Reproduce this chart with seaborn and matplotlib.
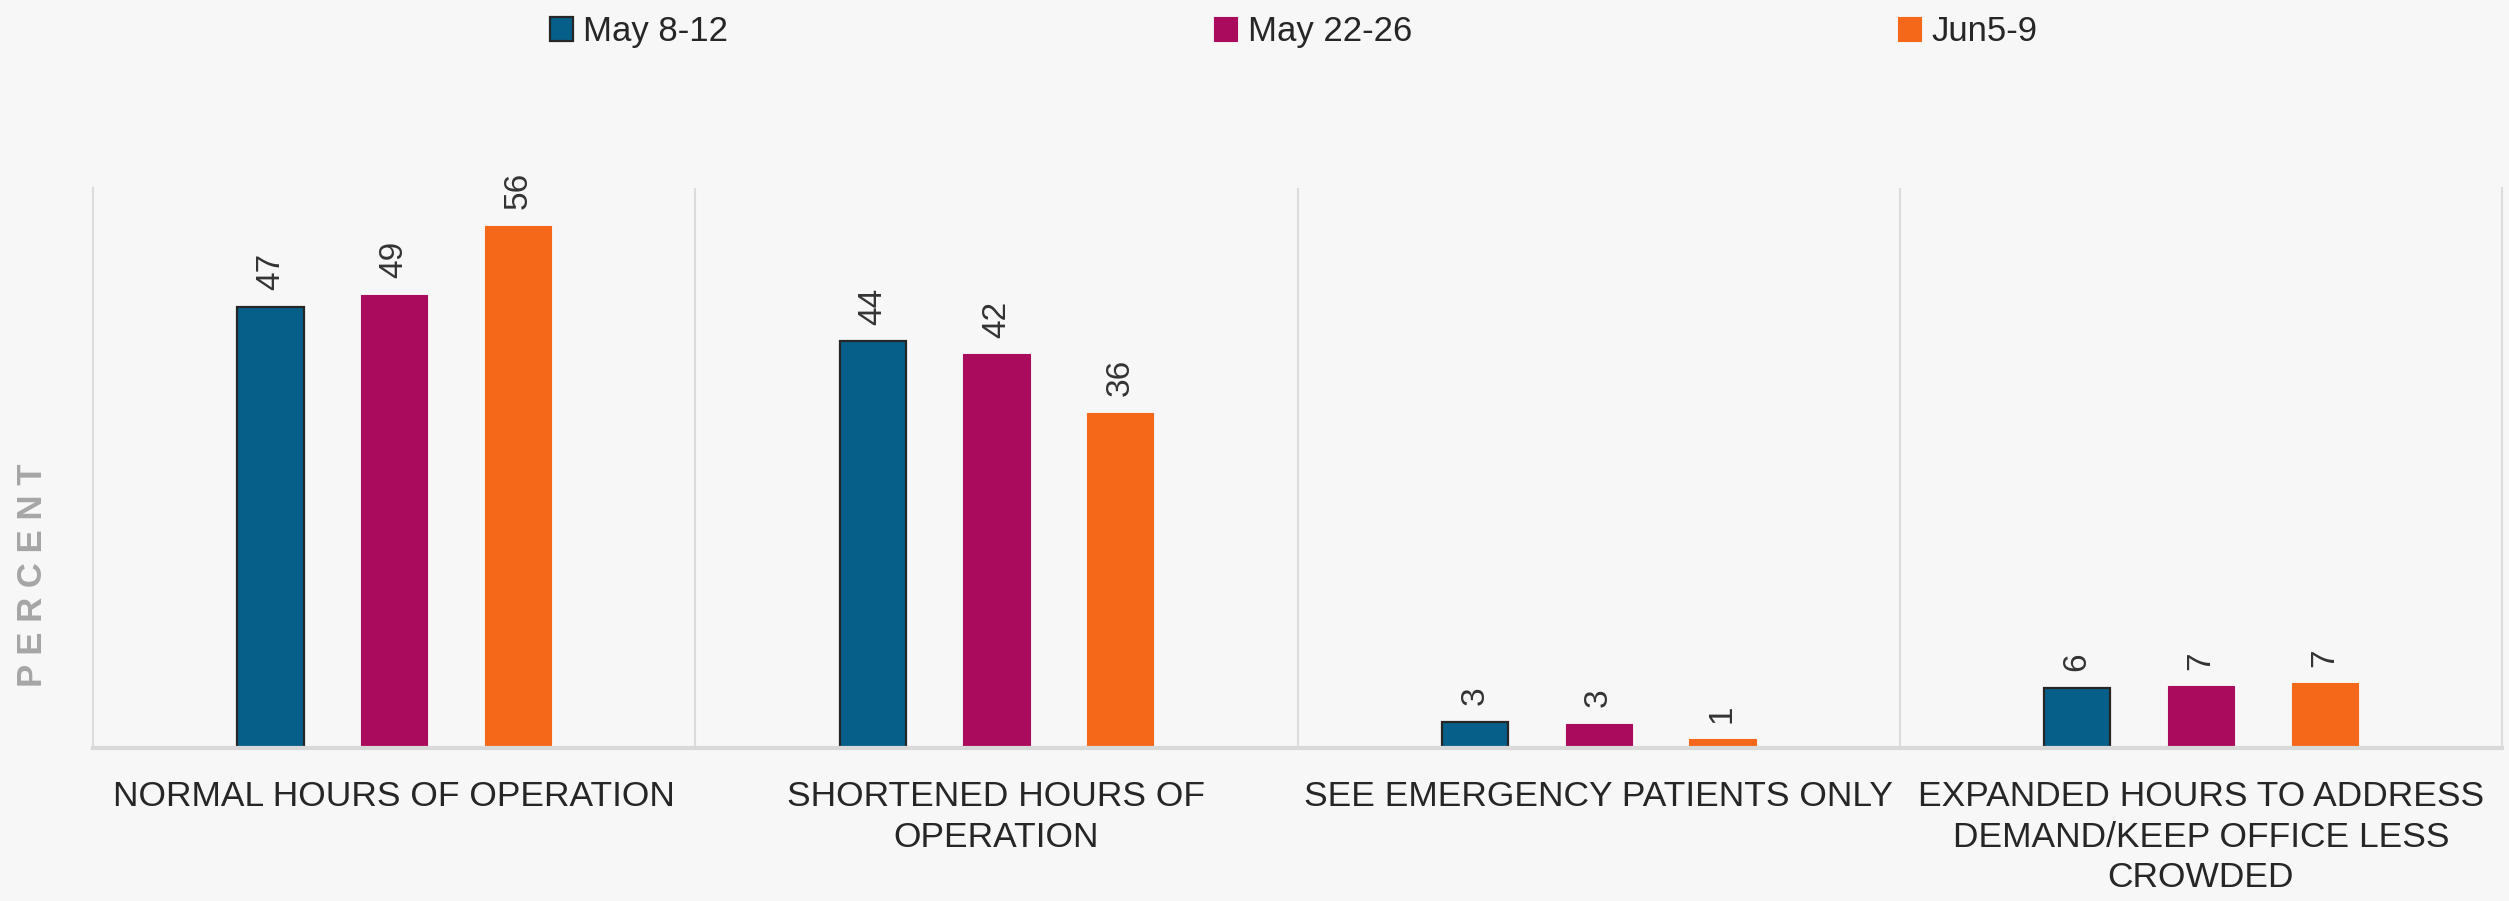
import matplotlib
matplotlib.use('Agg')
import matplotlib.pyplot as plt
import seaborn as sns
import pandas as pd

# values (labels show rounded numbers)
CATEGORIES = ['NORMAL HOURS OF OPERATION',
              'SHORTENED HOURS OF\nOPERATION',
              'SEE EMERGENCY PATIENTS ONLY',
              'EXPANDED HOURS TO ADDRESS\nDEMAND/KEEP OFFICE LESS\nCROWDED']
SERIES = ['May 8-12', 'May 22-26', 'Jun5-9']
may_8_12 = [47.3, 43.6, 2.8, 6.4]
may_22_26 = [48.6, 42.2, 2.6, 6.6]
jun_5_9 = [56.0, 35.9, 0.9, 6.9]
COLORS = ['#065f88', '#ab0b5c', '#f5681a']
BG = '#f7f7f7'

rows = []
for name, vals in zip(SERIES, [may_8_12, may_22_26, jun_5_9]):
    for cat, v in zip(CATEGORIES, vals):
        rows.append({'category': cat, 'series': name, 'value': v})
df = pd.DataFrame(rows)

sns.set_style('white')
plt.rcParams['font.family'] = ['Liberation Sans', 'DejaVu Sans']

fig = plt.figure(figsize=(25.09, 9.01), dpi=100, facecolor=BG)
ax = fig.add_axes([0.0371, 0.170, 0.9601, 0.621])
ax.set_facecolor(BG)

sns.barplot(data=df, x='category', y='value', hue='series', order=CATEGORIES,
            hue_order=SERIES, palette=COLORS, width=0.6165, gap=0.465,
            errorbar=None, saturation=1, linewidth=0, ax=ax)

# blue bars carry a dark outline in the original
for cont, col in zip(ax.containers, COLORS):
    for p in cont.patches:
        if col == COLORS[0]:
            p.set_edgecolor('#262626')
            p.set_linewidth(1.6)
        else:
            p.set_edgecolor(col)
            p.set_linewidth(0.8)
    ax.bar_label(cont, fmt='{:.0f}', rotation=90, padding=12, fontsize=24,
                 color='#333333')

ax.set_ylim(0, 60)
ax.set_xlim(-0.5, 3.5)
for xv in [0.5, 1.5, 2.5]:
    ax.axvline(xv, color='#dcdcdc', lw=1.5, zorder=0)
for s in ['left', 'right']:
    ax.spines[s].set_color('#dcdcdc')
    ax.spines[s].set_linewidth(1.5)
ax.spines['bottom'].set_color('#d9d9d9')
ax.spines['bottom'].set_linewidth(3)
ax.spines['top'].set_visible(False)

ax.set_yticks([])
ax.set_xlabel('')
ax.set_ylabel('')
ax.set_xticks(range(len(CATEGORIES)))
ax.set_xticklabels(CATEGORIES, fontsize=25.5, color='#262626', linespacing=1.3)
ax.tick_params(axis='x', length=0, pad=23)

fig.text(0.0128, 0.362, 'P E R C E N T', rotation=90, ha='center', va='center',
         fontsize=25, fontweight='bold', color='#a6a6a6')

ax.legend(ax.containers, SERIES, loc='center left', bbox_to_anchor=(0.2192, 0.965),
          bbox_transform=fig.transFigure, ncol=3, frameon=False, fontsize=25,
          handlelength=0.66, handleheight=0.66, handletextpad=0.3,
          columnspacing=14, borderpad=0, borderaxespad=0, labelcolor='#262626')

plt.savefig('out.png', dpi=100, facecolor=BG)
